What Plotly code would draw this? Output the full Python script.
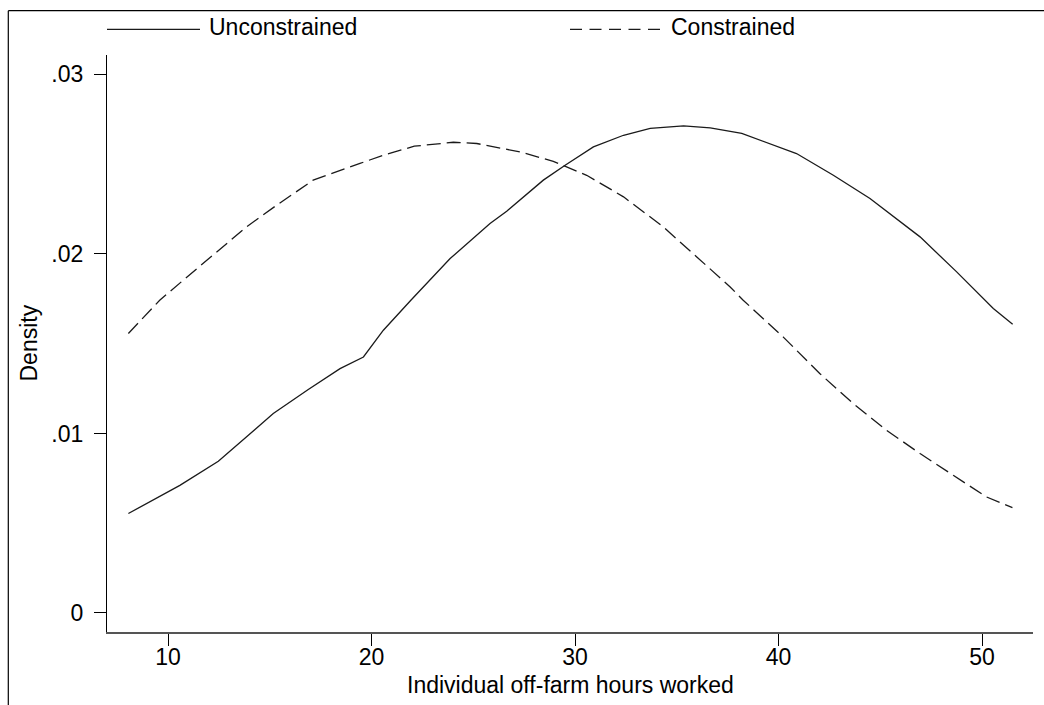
import plotly.graph_objects as go

# Data
unc_x = [8.05, 10.58, 12.47, 15.17, 16.89, 18.45, 19.60, 20.58, 21.93, 23.86, 25.82, 26.64,
         28.44, 29.51, 30.90, 32.38, 33.69, 35.33, 36.64, 37.62, 38.19, 40.88, 42.69, 44.49,
         46.95, 48.75, 50.55, 51.50]
unc_y = [0.00554, 0.00711, 0.00845, 0.01111, 0.01245, 0.01361, 0.01426, 0.01575, 0.01742,
         0.01974, 0.02169, 0.02238, 0.02411, 0.02494, 0.02596, 0.02661, 0.02699, 0.02713,
         0.02702, 0.02685, 0.02671, 0.02559, 0.02438, 0.02309, 0.02095, 0.01900, 0.01696,
         0.01608]

con_x = [8.05, 8.69, 9.59, 10.74, 12.38, 13.85, 15.33, 17.13, 19.43, 20.58, 22.10, 24.02,
         25.17, 27.30, 28.93, 30.57, 32.38, 34.34, 35.98, 37.62, 38.26, 40.22, 42.02, 43.66,
         45.30, 46.95, 48.58, 50.22, 51.49]
con_y = [0.01557, 0.01635, 0.01742, 0.01853, 0.02011, 0.02150, 0.02271, 0.02411, 0.02504,
         0.02550, 0.02600, 0.02622, 0.02615, 0.02568, 0.02516, 0.02438, 0.02318, 0.02150,
         0.01983, 0.01816, 0.01742, 0.01538, 0.01334, 0.01167, 0.01018, 0.00888, 0.00767,
         0.00646, 0.00587]

x_ticks = [10, 20, 30, 40, 50]
y_ticks = [0, 0.01, 0.02, 0.03]
y_ticktext = ["0", ".01", ".02", ".03"]
series_names = ["Unconstrained", "Constrained"]

FONT = "Liberation Sans, Arial, sans-serif"
LINE = "#1a1a1a"

fig = go.Figure()
fig.add_trace(go.Scatter(x=unc_x, y=unc_y, mode="lines", name=series_names[0],
                         line=dict(color=LINE, width=1.3), showlegend=False))
fig.add_trace(go.Scatter(x=con_x, y=con_y, mode="lines", name=series_names[1],
                         line=dict(color=LINE, width=1.3, dash="14px,6px"), showlegend=False))

# plot area in pixels: x 107..1033, y 55..632
W, H = 1044, 705
L, R, T, B = 107, 1033, 55, 632
def px(x):
    return (x - L) / (R - L)
def py(y):
    return (B - y) / (B - T)

shapes = []
# outer frame (left and top edges)
shapes.append(dict(type="line", xref="paper", yref="paper", x0=px(8.3), x1=px(8.3),
                   y0=py(10.7), y1=py(720), line=dict(color="black", width=1.2)))
shapes.append(dict(type="line", xref="paper", yref="paper", x0=px(8.3), x1=px(1060),
                   y0=py(10.7), y1=py(10.7), line=dict(color="black", width=1.2)))
# legend keys
shapes.append(dict(type="line", xref="paper", yref="paper", x0=px(107), x1=px(200),
                   y0=py(29.3), y1=py(29.3), line=dict(color=LINE, width=1.3)))
shapes.append(dict(type="line", xref="paper", yref="paper", x0=px(570), x1=px(660),
                   y0=py(29.3), y1=py(29.3), line=dict(color=LINE, width=1.3, dash="12px,7.5px")))

annotations = [
    dict(text=series_names[0], xref="paper", yref="paper", x=px(207), y=py(27),
         xanchor="left", yanchor="middle", showarrow=False, font=dict(size=23, family=FONT, color="black")),
    dict(text=series_names[1], xref="paper", yref="paper", x=px(669), y=py(27),
         xanchor="left", yanchor="middle", showarrow=False, font=dict(size=23, family=FONT, color="black")),
    dict(text="Individual off-farm hours worked", xref="paper", yref="paper", x=0.5, y=py(685),
         xanchor="center", yanchor="middle", showarrow=False, font=dict(size=23, family=FONT, color="black")),
    dict(text="Density", xref="paper", yref="paper", x=px(28), y=0.5, textangle=-90,
         xanchor="center", yanchor="middle", showarrow=False, font=dict(size=23, family=FONT, color="black")),
]

fig.update_layout(
    width=W, height=H,
    margin=dict(l=L, r=W - R, t=T, b=H - B, pad=0),
    paper_bgcolor="white", plot_bgcolor="white",
    font=dict(family=FONT, size=23, color="black"),
    shapes=shapes, annotations=annotations,
    showlegend=False,
)
fig.update_xaxes(range=[7.0, 52.5], tickvals=x_ticks, ticks="", ticklabelstandoff=4,
                 minor=dict(tickvals=x_ticks, ticks="outside", ticklen=12, tickcolor="black", tickwidth=1),
                 showline=True, linecolor="#555555", linewidth=1.5,
                 showgrid=False, zeroline=False, tickfont=dict(size=23, family=FONT, color="black"))
fig.update_yaxes(range=[-0.00106, 0.03108], tickvals=y_ticks, ticktext=y_ticktext, ticks="",
                 ticklabelstandoff=18,
                 minor=dict(tickvals=y_ticks, ticks="outside", ticklen=12, tickcolor="black", tickwidth=1),
                 showline=True, linecolor="black", linewidth=1.2,
                 showgrid=False, zeroline=False, tickfont=dict(size=23, family=FONT, color="black"))

fig.write_html("out.html")
